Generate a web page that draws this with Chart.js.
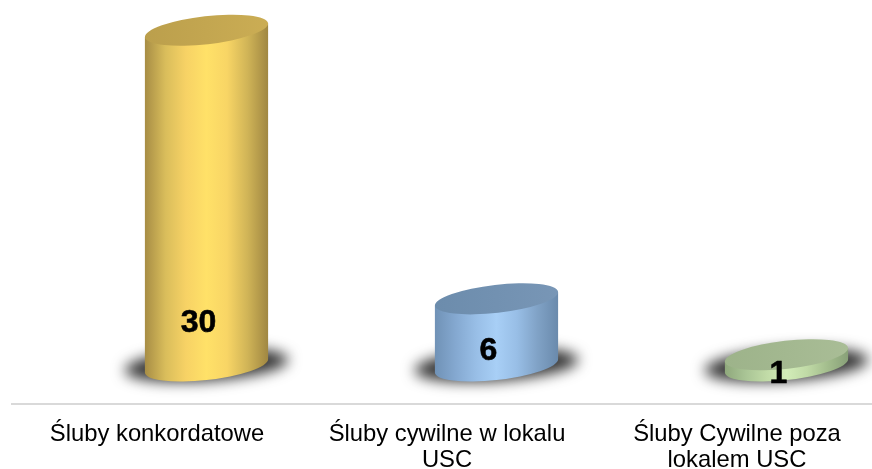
<!DOCTYPE html>
<html>
<head>
<meta charset="utf-8">
<script src="https://cdn.jsdelivr.net/npm/chart.js@4/dist/chart.umd.min.js"></script>
<style>
  html, body { margin: 0; padding: 0; background: #fff; }
  #wrap { width: 872px; height: 469px; overflow: hidden; }
</style>
</head>
<body>
<div id="wrap"><canvas id="canvas_grafico" width="900" height="469"></canvas></div>
<script>
const categories = [
    'Śluby konkordatowe',
    ['Śluby cywilne w lokalu', 'USC'],
    ['Śluby Cywilne poza', 'lokalem USC']
];
const values = [30, 6, 1];

// kolory walcow: boki (gradient) i gorna podstawa
const sideColors = [
    ['#a78d45', '#d9bd5b', '#f7d265', '#ffe168', '#f8d565', '#d0b457', '#a08742'],
    ['#7092b6', '#84a8d0', '#98bee6', '#a8cff6', '#98bee6', '#80a2c6', '#6a8aac'],
    ['#8fa87c', '#a9c495', '#c0daa6', '#d2ecb8', '#c0daa6', '#a3bd8d', '#88a078']
];
const topColors = [
    ['#bb9f4c', '#cbad54'],
    ['#6c8cac', '#7896b6'],
    ['#9db38a', '#a9bd96']
];
// polozenie etykiety wzgledem podstawy walca
const labelOffsets = [-43, -15, 8];

const shiftX = 49.5;
const tilt = -6.5 * Math.PI / 180;
const ryTop = 14;

const cylinders = {
    id: 'cylinders',
    afterDatasetsDraw(chart) {
        const ctx = chart.ctx;
        chart.getDatasetMeta(0).data.forEach(function (bar, i) {
            const cx = bar.x + shiftX;
            const rx = bar.width / 2 + 0.5;
            const t0 = Math.atan2(-ryTop * Math.sin(tilt), rx * Math.cos(tilt));
            const ex = rx * Math.cos(t0) * Math.cos(tilt) - ryTop * Math.sin(t0) * Math.sin(tilt);
            const ey = rx * Math.cos(t0) * Math.sin(tilt) + ryTop * Math.sin(t0) * Math.cos(tilt);

            // cien pod walcem
            ctx.save();
            ctx.filter = 'blur(7px)';
            ctx.fillStyle = '#333';
            ctx.beginPath();
            ctx.ellipse(cx, bar.base - 1, rx + 20, 16, tilt * 0.6, 0, Math.PI * 2);
            ctx.fill();
            ctx.restore();

            // bok
            const grad = ctx.createLinearGradient(cx - ex, 0, cx + ex, 0);
            sideColors[i].forEach(function (c, k) {
                grad.addColorStop(k / (sideColors[i].length - 1), c);
            });
            ctx.fillStyle = grad;
            ctx.beginPath();
            ctx.ellipse(cx, bar.base, rx, ryTop, tilt, t0, t0 + Math.PI);
            ctx.lineTo(cx - ex, bar.y - ey);
            ctx.lineTo(cx + ex, bar.y + ey);
            ctx.closePath();
            ctx.fill();

            // gorna podstawa
            const gradTop = ctx.createLinearGradient(cx - ex, 0, cx + ex, 0);
            gradTop.addColorStop(0, topColors[i][0]);
            gradTop.addColorStop(1, topColors[i][1]);
            ctx.fillStyle = gradTop;
            ctx.beginPath();
            ctx.ellipse(cx, bar.y, rx, ryTop, tilt, 0, Math.PI * 2);
            ctx.fill();

            // wartosc
            ctx.fillStyle = '#000';
            ctx.strokeStyle = '#000';
            ctx.lineWidth = 0.6;
            ctx.font = 'bold 32px "Liberation Sans"';
            ctx.textAlign = 'center';
            ctx.textBaseline = 'middle';
            ctx.fillText(String(values[i]), cx - 8, bar.base + labelOffsets[i]);
            ctx.strokeText(String(values[i]), cx - 8, bar.base + labelOffsets[i]);
        });
    }
};

const ctx = document.getElementById('canvas_grafico').getContext('2d');
const myChart = new Chart(ctx, {
    type: 'bar',
    data: {
        labels: categories,
        datasets: [{
            data: values,
            backgroundColor: 'rgba(0,0,0,0)',
            borderWidth: 0,
            categoryPercentage: 1,
            barPercentage: 0.424
        }]
    },
    plugins: [cylinders],
    options: {
        responsive: false,
        animation: false,
        layout: { padding: { left: 12, right: 18, top: 0, bottom: 0 } },
        plugins: { legend: { display: false }, tooltip: { enabled: false } },
        scales: {
            x: {
                afterFit: function (scale) { scale.height = 65; },
                grid: { display: false },
                border: { color: '#d9d9d9', width: 2 },
                ticks: {
                    color: '#000',
                    padding: 10,
                    maxRotation: 0,
                    autoSkip: false,
                    font: { family: '"Liberation Sans"', size: 23.8, lineHeight: 1.08 }
                }
            },
            y: {
                display: false,
                min: -3.4,
                max: 32.7
            }
        }
    }
});
</script>
</body>
</html>
